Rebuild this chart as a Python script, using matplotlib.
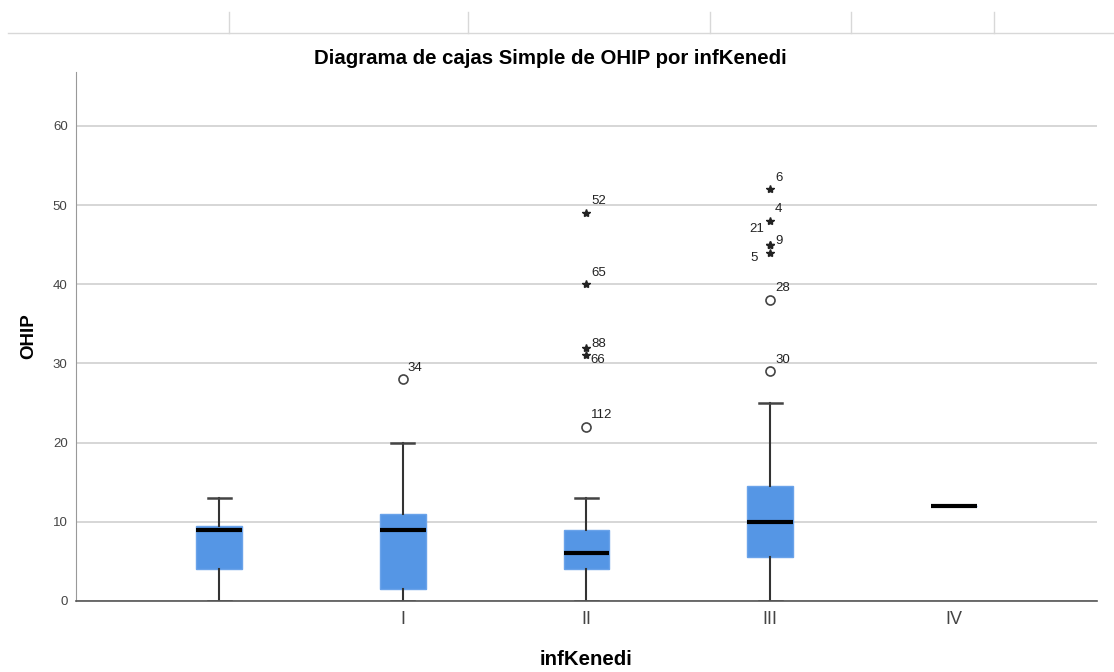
import matplotlib.pyplot as plt
from matplotlib.lines import Line2D

plt.rcParams['font.family'] = ['Liberation Sans', 'DejaVu Sans']

categories = ['', 'I', 'II', 'III', 'IV']
whis_low = [0, 0, 0, 0, 12]
q1 = [4, 1.5, 4, 5.5, 12]
median = [9, 9, 6, 10, 12]
q3 = [9.5, 11, 9, 14.5, 12]
whis_high = [13, 20, 13, 25, 12]

# outliers: category index, value, case id, kind, where the label sits
out_cat = [1, 2, 2, 2, 2, 2, 3, 3, 3, 3, 3, 3, 3]
out_val = [28, 22, 31, 32, 40, 49, 29, 38, 44, 45, 45, 48, 52]
out_id = ['34', '112', '66', '88', '65', '52', '30', '28', '5', '9', '21', '4', '6']
out_kind = ['o', 'o', '*', '*', '*', '*', 'o', 'o', '*', '*', '*', '*', '*']
out_side = ['r', 'r', 'rd', 'rc', 'r', 'r', 'r', 'r', 'dl', 'rc', 'ul', 'r', 'r']

label_offsets = {'r': ((3.5, 4), 'left', 'bottom'),
                 'rc': ((3.5, 2.5), 'left', 'center'),
                 'rd': ((3, -3.5), 'left', 'center'),
                 'ul': ((-4, 7), 'right', 'bottom'),
                 'dl': ((-9, -4), 'right', 'center')}

fig = plt.figure(figsize=(11.14, 6.72), dpi=100)
ax = fig.add_axes([0.0682, 0.1057, 0.9165, 0.7872])

stats = []
for i in range(len(categories)):
    stats.append(dict(whislo=whis_low[i], q1=q1[i], med=median[i],
                      q3=q3[i], whishi=whis_high[i], fliers=[]))

ax.bxp(stats, positions=range(len(categories)), widths=0.25,
       patch_artist=True, showfliers=False,
       boxprops=dict(facecolor='#5596e5', edgecolor='#6aa3ea', linewidth=1),
       medianprops=dict(color='black', linewidth=3, solid_capstyle='butt'),
       whiskerprops=dict(color='#333333', linewidth=1.5),
       capprops=dict(color='#444444', linewidth=1.8),
       capwidths=0.125)

for c, v, lab, k, s in zip(out_cat, out_val, out_id, out_kind, out_side):
    if k == 'o':
        ax.plot(c, v, 'o', mfc='none', mec='#444444', ms=6.5, mew=1.2)
    else:
        ax.plot(c, v, '*', color='#222222', ms=6)
    off, ha, va = label_offsets[s]
    ax.annotate(lab, (c, v), xytext=off, textcoords='offset points',
                fontsize=9.5, color='#222222', ha=ha, va=va)

ax.set_xlim(-0.78, 4.78)
ax.set_ylim(0, 66.8)
ax.set_yticks([0, 10, 20, 30, 40, 50, 60])
ax.set_xticks(range(len(categories)))
ax.set_xticklabels(categories, fontsize=13, color='#444444')
ax.tick_params(axis='y', length=0, labelsize=9.5, colors='#444444', pad=6)
ax.tick_params(axis='x', length=0, pad=7)
ax.grid(axis='y', color='#d0d0d0', linewidth=1.2)
ax.set_axisbelow(True)
for s in ['top', 'right']:
    ax.spines[s].set_visible(False)
ax.spines['left'].set_color('#999999')
ax.spines['bottom'].set_color('#555555')
ax.spines['bottom'].set_linewidth(1.2)

fig.text(550 / 1114, 1 - 59 / 672, 'Diagrama de cajas Simple de OHIP por infKenedi',
         fontsize=14.7, fontweight='bold', ha='center', va='center')
ax.set_xlabel('infKenedi', fontsize=14.7, fontweight='bold', labelpad=16)
ax.set_ylabel('OHIP', fontsize=13.5, fontweight='bold', labelpad=11)

# residual table lines at the top of the output page
fig.add_artist(Line2D([8 / 1114, 1], [1 - 33 / 672] * 2, color='#d8d8d8', lw=1))
for xv in [229, 468, 710, 851, 994]:
    fig.add_artist(Line2D([xv / 1114] * 2, [1 - 12 / 672, 1 - 33 / 672],
                          color='#d8d8d8', lw=1))

fig.savefig('out.png', dpi=100)
